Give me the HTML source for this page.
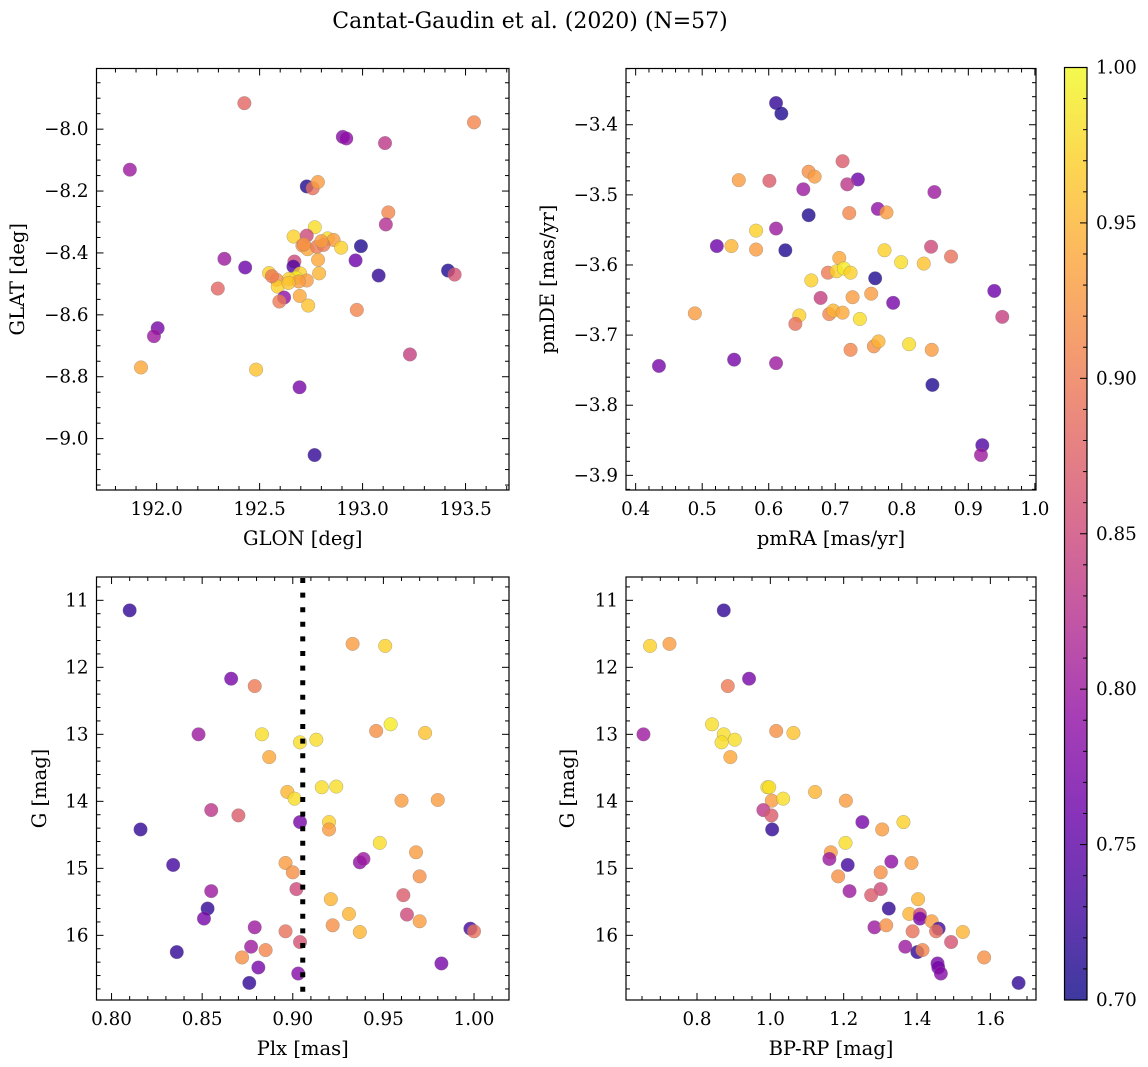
<!DOCTYPE html>
<html><head><meta charset="utf-8">
<style>
html,body{margin:0;padding:0;background:#fff;}
svg{display:block;font-family:"DejaVu Serif","Liberation Serif",serif;}
</style></head>
<body>
<svg id="fig" width="1148" height="1067" viewBox="0 0 1148 1067" xmlns="http://www.w3.org/2000/svg">
<rect width="1148" height="1067" fill="#fff"/>
<text x="530" y="28" font-size="22" text-anchor="middle">Cantat-Gaudin et al. (2020) (N=57)</text>
</svg>
<script>
// Panel 1: GLON vs GLAT
const glon=[192.426,193.541,192.904,192.921,193.109,191.870,192.729,192.758,192.783,193.125,193.113,192.768,192.665,192.729,192.831,192.859,192.896,192.708,192.733,192.778,192.810,192.992,192.784,192.966,192.669,192.664,192.329,192.430,193.078,193.415,193.447,192.546,192.697,192.676,192.643,192.789,192.729,192.583,192.588,192.297,192.619,192.596,192.695,192.736,192.972,192.005,191.987,193.230,191.924,192.483,192.694,192.767,192.690,192.715,192.640,192.800,192.560];
const glat=[-7.916,-7.978,-8.025,-8.030,-8.045,-8.131,-8.185,-8.191,-8.171,-8.269,-8.308,-8.317,-8.347,-8.344,-8.353,-8.358,-8.383,-8.376,-8.388,-8.380,-8.374,-8.378,-8.422,-8.424,-8.428,-8.444,-8.419,-8.447,-8.473,-8.457,-8.470,-8.465,-8.466,-8.480,-8.484,-8.466,-8.489,-8.487,-8.509,-8.515,-8.544,-8.557,-8.539,-8.570,-8.584,-8.643,-8.669,-8.728,-8.770,-8.777,-8.834,-9.053,-8.492,-8.372,-8.497,-8.362,-8.475];
const prob1=[0.88,0.91,0.78,0.79,0.83,0.80,0.71,0.89,0.93,0.91,0.82,0.98,0.97,0.85,0.98,0.93,0.97,0.92,0.94,0.90,0.90,0.71,0.94,0.76,0.85,0.74,0.80,0.76,0.72,0.71,0.86,0.97,0.97,0.99,0.97,0.95,0.93,0.92,0.97,0.88,0.79,0.90,0.94,0.96,0.91,0.77,0.80,0.84,0.94,0.96,0.77,0.72,0.93,0.92,0.96,0.93,0.90];
// Panel 2: pmRA vs pmDE
const pmra=[0.611,0.619,0.711,0.660,0.669,0.555,0.601,0.734,0.718,0.652,0.849,0.660,0.721,0.764,0.777,0.581,0.611,0.522,0.544,0.581,0.625,0.774,0.844,0.874,0.706,0.799,0.833,0.689,0.702,0.713,0.723,0.760,0.664,0.939,0.678,0.726,0.754,0.787,0.489,0.691,0.697,0.711,0.646,0.737,0.951,0.640,0.758,0.765,0.723,0.811,0.845,0.548,0.611,0.435,0.846,0.921,0.919];
const pmde=[-3.369,-3.384,-3.452,-3.467,-3.474,-3.479,-3.480,-3.478,-3.485,-3.492,-3.496,-3.529,-3.526,-3.520,-3.525,-3.551,-3.548,-3.573,-3.573,-3.578,-3.579,-3.579,-3.574,-3.588,-3.590,-3.596,-3.598,-3.611,-3.609,-3.605,-3.611,-3.619,-3.622,-3.637,-3.647,-3.646,-3.641,-3.654,-3.669,-3.670,-3.665,-3.668,-3.672,-3.677,-3.674,-3.684,-3.716,-3.709,-3.721,-3.713,-3.721,-3.735,-3.740,-3.744,-3.771,-3.857,-3.871];
const prob2=[0.72,0.71,0.87,0.92,0.93,0.93,0.87,0.76,0.83,0.80,0.80,0.71,0.91,0.79,0.93,0.97,0.80,0.76,0.95,0.93,0.71,0.97,0.85,0.89,0.94,0.98,0.96,0.90,0.97,0.99,0.97,0.71,0.97,0.76,0.84,0.93,0.93,0.77,0.93,0.91,0.95,0.94,0.97,0.98,0.84,0.89,0.92,0.95,0.91,0.98,0.93,0.77,0.80,0.77,0.71,0.74,0.80];
// Panel 3: Plx vs G
const plx=[0.810,0.933,0.951,0.866,0.879,0.848,0.883,0.904,0.913,0.946,0.954,0.973,0.887,0.897,0.901,0.916,0.924,0.960,0.980,0.855,0.870,0.904,0.920,0.920,0.816,0.948,0.968,0.834,0.937,0.939,0.896,0.900,0.970,0.855,0.902,0.961,0.921,0.853,0.851,0.931,0.963,0.970,0.879,0.896,0.922,0.937,0.998,1.000,0.904,0.836,0.877,0.885,0.872,0.881,0.903,0.982,0.876];
const g3=[11.15,11.65,11.68,12.17,12.28,13.00,13.00,13.12,13.08,12.95,12.85,12.98,13.34,13.86,13.96,13.79,13.78,13.99,13.98,14.13,14.21,14.31,14.31,14.42,14.42,14.62,14.76,14.95,14.91,14.86,14.92,15.06,15.12,15.34,15.31,15.40,15.46,15.60,15.75,15.68,15.69,15.79,15.88,15.94,15.85,15.95,15.90,15.94,16.10,16.25,16.17,16.22,16.33,16.48,16.57,16.42,16.71];
const prob3=[0.72,0.93,0.97,0.77,0.90,0.80,0.98,0.98,0.98,0.92,0.99,0.96,0.94,0.95,0.98,0.98,0.98,0.93,0.93,0.83,0.87,0.77,0.97,0.93,0.72,0.98,0.93,0.73,0.79,0.80,0.93,0.92,0.92,0.80,0.85,0.87,0.95,0.72,0.77,0.95,0.85,0.93,0.80,0.89,0.92,0.95,0.73,0.89,0.86,0.72,0.80,0.91,0.92,0.77,0.78,0.77,0.72];
const plxRef=[0.9055];
// Panel 4: BP-RP vs G
const bprp=[0.873,0.672,0.725,0.942,0.884,0.654,0.841,0.873,0.867,0.903,0.891,1.016,1.063,0.992,0.997,1.004,1.035,1.122,1.206,0.981,1.003,1.005,1.251,1.305,1.363,1.205,1.165,1.161,1.211,1.330,1.385,1.185,1.301,1.216,1.301,1.275,1.403,1.323,1.379,1.408,1.408,1.440,1.459,1.452,1.284,1.316,1.388,1.525,1.493,1.368,1.401,1.415,1.583,1.456,1.458,1.465,1.677];
const g4=[11.15,11.68,11.65,12.17,12.28,13.00,12.85,13.00,13.12,13.08,13.34,12.95,12.98,13.79,13.79,13.99,13.96,13.86,13.99,14.13,14.21,14.42,14.31,14.42,14.31,14.62,14.76,14.86,14.95,14.90,14.92,15.12,15.06,15.34,15.31,15.40,15.46,15.60,15.68,15.69,15.75,15.79,15.90,15.94,15.88,15.85,15.94,15.95,16.10,16.17,16.25,16.22,16.33,16.42,16.48,16.57,16.71];
const prob4=[0.72,0.97,0.93,0.77,0.90,0.80,0.98,0.98,0.98,0.98,0.94,0.92,0.96,0.98,0.98,0.93,0.98,0.95,0.93,0.83,0.87,0.72,0.77,0.93,0.97,0.98,0.93,0.80,0.73,0.79,0.93,0.92,0.92,0.80,0.85,0.87,0.95,0.72,0.95,0.85,0.77,0.93,0.73,0.89,0.80,0.92,0.89,0.95,0.86,0.80,0.72,0.91,0.92,0.77,0.77,0.78,0.72];
// Colorbar
const cbTicks=[0.70,0.75,0.80,0.85,0.90,0.95,1.00];
const cbTickLabels=["0.70","0.75","0.80","0.85","0.90","0.95","1.00"];

const NS="http://www.w3.org/2000/svg";
const svg=document.getElementById('fig');
function mk(tag,attrs,parent){const e=document.createElementNS(NS,tag);for(const k in attrs)e.setAttribute(k,attrs[k]);(parent||svg).appendChild(e);return e;}
const plasma=[[13,8,135],[65,4,157],[106,0,168],[143,13,164],[177,42,144],[204,71,120],[225,100,98],[242,132,75],[252,166,54],[252,206,37],[240,249,33]];
function cmap(v){let t=(v-0.7)/0.3;t=Math.max(0,Math.min(1,t));const f=t*10;const i=Math.min(9,Math.floor(f));const r=f-i;const a=plasma[i],b=plasma[i+1];
 return `rgb(${Math.round(a[0]+(b[0]-a[0])*r)},${Math.round(a[1]+(b[1]-a[1])*r)},${Math.round(a[2]+(b[2]-a[2])*r)})`;}
function fmt(v,d){const s=Math.abs(v).toFixed(d);return (v<-1e-9?'\u2212':'')+s;}
const TFS=18.3, LFS=19.5;

function panel(o){
 const g=mk('g',{});
 
 
 const sx=v=>o.x0+(v-o.xmin)/(o.xmax-o.xmin)*(o.x1-o.x0);
 const sy=o.yinv?(v=>o.y0+(v-o.ymin)/(o.ymax-o.ymin)*(o.y1-o.y0)):(v=>o.y1-(v-o.ymin)/(o.ymax-o.ymin)*(o.y1-o.y0));
 const tg=mk('g',{stroke:'#000','stroke-width':1},g);
 
 
 const eps=1e-9;
 for(let v=Math.ceil(o.xmin/o.xminor-eps)*o.xminor;v<=o.xmax+eps;v+=o.xminor){
  const isMaj=Math.abs(v/o.xmajor-Math.round(v/o.xmajor))<1e-6;const L=isMaj?7:4;const px=sx(v);
  mk('line',{x1:px,x2:px,y1:o.y1,y2:o.y1-L},tg);mk('line',{x1:px,x2:px,y1:o.y0,y2:o.y0+L},tg);
  if(isMaj){const t=mk('text',{x:px,y:o.y1+25,'font-size':TFS,'text-anchor':'middle',stroke:'none',fill:'#000'},g);t.textContent=fmt(v,o.xdec);
   }
 }
 for(let v=Math.ceil(o.ymin/o.yminor-eps)*o.yminor;v<=o.ymax+eps;v+=o.yminor){
  const isMaj=Math.abs(v/o.ymajor-Math.round(v/o.ymajor))<1e-6;const L=isMaj?7:4;const py=sy(v);
  mk('line',{x1:o.x0,x2:o.x0+L,y1:py,y2:py},tg);mk('line',{x1:o.x1,x2:o.x1-L,y1:py,y2:py},tg);
  if(isMaj){const t=mk('text',{x:o.x0-8,y:py+6,'font-size':TFS,'text-anchor':'end',fill:'#000'},g);t.textContent=fmt(v,o.ydec);
   }
 }
 const pg=mk('g',{},g);
 
 
 for(let i=0;i<o.xs.length;i++){
  const c=mk('circle',{cx:sx(o.xs[i]),cy:sy(o.ys[i]),r:6.8,fill:cmap(o.cs[i]),'fill-opacity':0.8,stroke:'#808080','stroke-opacity':0.6,'stroke-width':0.5},pg);
  
  
 }
 if(o.vline){for(const v of o.vline){const l=mk('line',{x1:sx(v),x2:sx(v),y1:o.y0+1,y2:o.y1,stroke:'#000','stroke-width':5,'stroke-dasharray':'5 9.6'},g);
  }}
 const fr=mk('rect',{x:o.x0,y:o.y0,width:o.x1-o.x0,height:o.y1-o.y0,fill:'none',stroke:'#000','stroke-width':1.2},g);
 
 
 const xl=mk('text',{x:(o.x0+o.x1)/2,y:o.y1+55,'font-size':LFS,'text-anchor':'middle'},g);xl.textContent=o.xlabel;
 
 const yc=(o.y0+o.y1)/2;
 const yl=mk('text',{x:o.ylx,y:yc,'font-size':LFS,'text-anchor':'middle',transform:`rotate(-90 ${o.ylx} ${yc})`},g);yl.textContent=o.ylabel;
 
}
panel({name:'glon-glat-panel',x0:96.5,x1:509,y0:68.5,y1:490,xmin:191.708,xmax:193.711,ymin:-9.166,ymax:-7.804,xmajor:0.5,xminor:0.1,ymajor:0.2,yminor:0.05,xdec:1,ydec:1,xs:glon,ys:glat,cs:prob1,xlabel:'GLON [deg]',ylabel:'GLAT [deg]',ylx:24});
panel({name:'proper-motion-panel',x0:626,x1:1036,y0:68.5,y1:490,xmin:0.3855,xmax:1.0017,ymin:-3.9209,ymax:-3.3198,xmajor:0.1,xminor:0.02,ymajor:0.1,yminor:0.02,xdec:1,ydec:1,xs:pmra,ys:pmde,cs:prob2,xlabel:'pmRA [mas/yr]',ylabel:'pmDE [mas/yr]',ylx:554});
panel({name:'parallax-mag-panel',x0:96.5,x1:509,y0:577,y1:1000,xmin:0.7917,xmax:1.0193,ymin:10.652,ymax:16.965,yinv:true,xmajor:0.05,xminor:0.01,ymajor:1,yminor:0.2,xdec:2,ydec:0,xs:plx,ys:g3,cs:prob3,vline:plxRef,xlabel:'Plx [mas]',ylabel:'G [mag]',ylx:46});
panel({name:'cmd-panel',x0:626,x1:1036,y0:577,y1:1000,xmin:0.6064,xmax:1.7245,ymin:10.652,ymax:16.965,yinv:true,xmajor:0.2,xminor:0.05,ymajor:1,yminor:0.2,xdec:1,ydec:0,xs:bprp,ys:g4,cs:prob4,xlabel:'BP-RP [mag]',ylabel:'G [mag]',ylx:574});

const cb=mk('g',{});


const cbx0=1064.5,cbx1=1087,cby0=67.5,cby1=1000;
const defs=mk('defs',{},cb);
const lg=mk('linearGradient',{id:'cbg',x1:0,y1:1,x2:0,y2:0},defs);
for(let i=0;i<=10;i++){mk('stop',{offset:i/10,'stop-color':cmap(0.7+i*0.03),'stop-opacity':0.8},lg);}
const cr=mk('rect',{x:cbx0,y:cby0,width:cbx1-cbx0,height:cby1-cby0,fill:'url(#cbg)',stroke:'#000','stroke-width':1.2},cb);


const cy=v=>cby1-(v-0.7)/0.3*(cby1-cby0);
for(let k=0;k<=30;k++){const v=0.7+k*0.01;const maj=k%5===0;const L=maj?7:4;
 mk('line',{x1:cbx1,x2:cbx1-L,y1:cy(v),y2:cy(v),stroke:'#000','stroke-width':1},cb);}
cbTicks.forEach((v,i)=>{const t=mk('text',{x:cbx1+9,y:cy(v)+6,'font-size':TFS},cb);t.textContent=cbTickLabels[i];
 });
</script>
</body></html>
